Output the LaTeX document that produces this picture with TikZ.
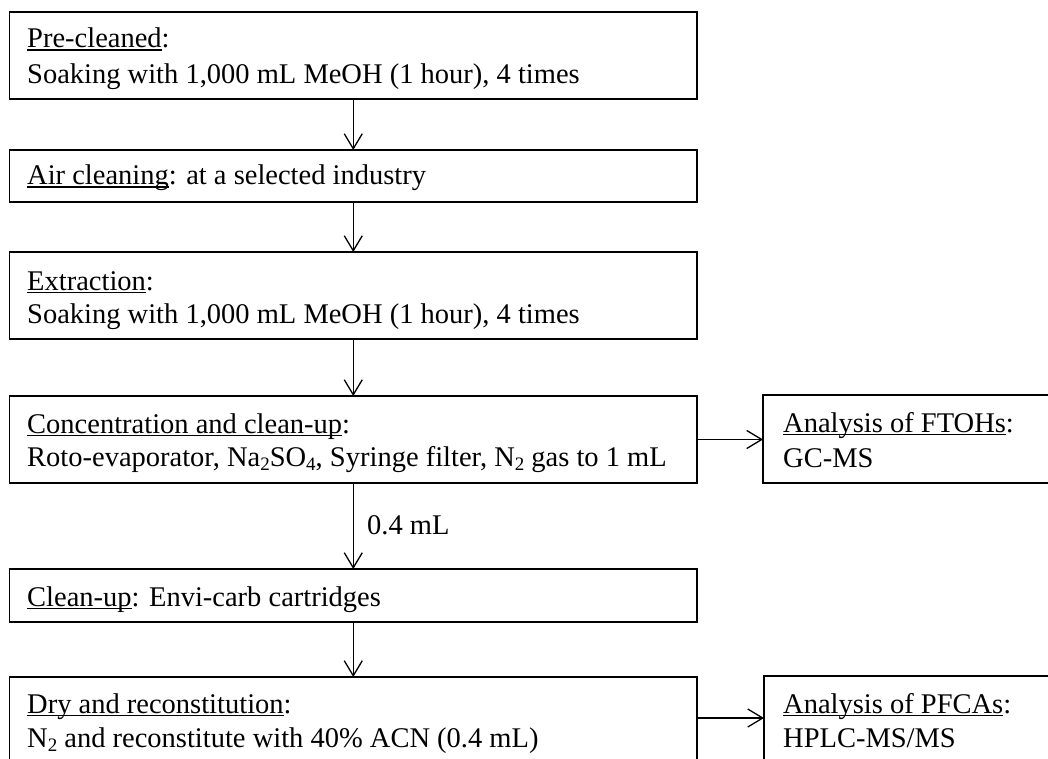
\documentclass[tikz,border=0pt]{standalone}
\usepackage{fontspec}
\setmainfont{Liberation Serif}
\usetikzlibrary{arrows.meta}
\newcommand\ulx[1]{\setbox0\hbox{#1}\rlap{\rule[-2.8pt]{\wd0}{1.3pt}}\box0}
\newcommand\sbx[1]{\raisebox{-4pt}{\fontsize{19}{19}\selectfont #1}}
\begin{document}
\begin{tikzpicture}[x=1pt,y=-1pt,
  box/.style={draw, line width=1.3pt, minimum width=687.5pt, anchor=north west, inner sep=0pt, outer sep=0pt},
  rbox/.style={draw, line width=1.3pt, minimum width=300pt, anchor=north west, inner sep=0pt, outer sep=0pt},
  txt/.style={anchor=base west, inner sep=0pt, font=\fontsize{28.5}{34}\selectfont},
  arr/.style={line width=1.3pt, -{Straight Barb[length=15pt,width=18pt,line width=1.3pt]}}]
\useasboundingbox (0,0) rectangle (1048,759);
\clip (0,0) rectangle (1048,759);
% main boxes
\node[box, minimum height=87pt] (b1) at (9.5,12) {};
\node[box, minimum height=52pt] (b2) at (9.5,150) {};
\node[box, minimum height=87pt] (b3) at (9.5,252) {};
\node[box, minimum height=87pt] (b4) at (9.5,396) {};
\node[box, minimum height=53pt] (b5) at (9.5,569) {};
\node[box, minimum height=85pt] (b6) at (9.5,677) {};
% side boxes
\node[rbox, minimum height=88pt] (r1) at (763,395) {};
\node[rbox, minimum height=86pt] (r2) at (764,676) {};
% texts
\node[txt] (t1a) at (27,48) {\ulx{Pre-cleaned}:};
\node[txt] (t1b) at (27,84) {Soaking with 1,000 mL MeOH (1 hour), 4 times};
\node[txt] (t2) at (27,185) {\ulx{Air cleaning}: at a selected industry};
\node[txt] (t3a) at (27,290) {\ulx{Extraction}:};
\node[txt] (t3b) at (27,323) {Soaking with 1,000 mL MeOH (1 hour), 4 times};
\node[txt] (t4a) at (27,433) {\ulx{Concentration and clean-up}:};
\node[txt] (t4b) at (27,466) {Roto-evaporator, Na\sbx{2}SO\sbx{4}, Syringe filter, N\sbx{2} gas to 1 mL};
\node[txt] (t5) at (27,606) {\ulx{Clean-up}: Envi-carb cartridges};
\node[txt] (t6a) at (27,713) {\ulx{Dry and reconstitution}:};
\node[txt] (t6b) at (27,747) {N\sbx{2} and reconstitute with 40\% ACN (0.4 mL)};
\node[txt] (tr1a) at (783,432) {\ulx{Analysis of FTOHs}:};
\node[txt] (tr1b) at (783,467) {GC-MS};
\node[txt] (tr2a) at (783,713) {\ulx{Analysis of PFCAs}:};
\node[txt] (tr2b) at (783,747) {HPLC-MS/MS};
\node[txt] (lab) at (367,534) {0.4 mL};
% arrows
\draw[arr] (b1.south) -- (b2.north);
\draw[arr] (b2.south) -- (b3.north);
\draw[arr] (b3.south) -- (b4.north);
\draw[arr] (b4.south) -- (b5.north);
\draw[arr] (b5.south) -- (b6.north);
\draw[arr] (b4.east) -- (r1.west |- b4.east);
\draw[arr] (b6.east |- 0,718) -- (r2.west |- 0,718);
\end{tikzpicture}
\end{document}
